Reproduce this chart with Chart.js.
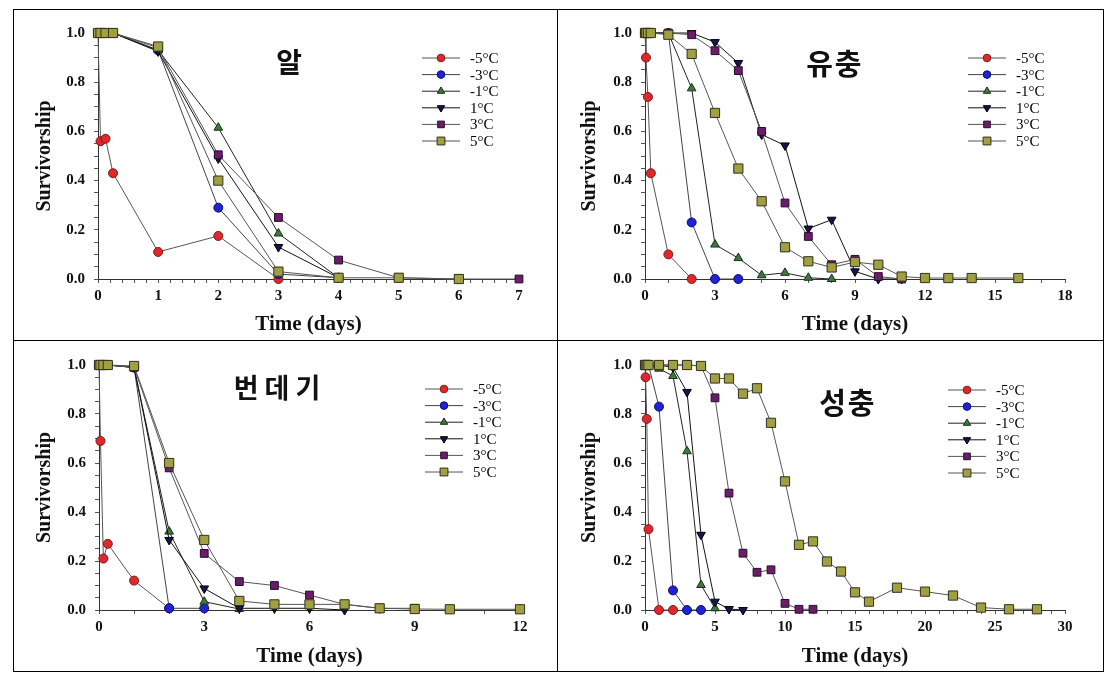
<!DOCTYPE html>
<html>
<head>
<meta charset="utf-8">
<script src="https://cdn.jsdelivr.net/npm/chart.js@4.4.1/dist/chart.umd.min.js"></script>
<style>
  html, body { margin: 0; padding: 0; background: #fff; }
  body { width: 1109px; height: 674px; position: relative; overflow: hidden; }
  .frame { position: absolute; left: 13px; top: 9px; width: 1089px; height: 661px; border: 1px solid #000; }
  .vline { position: absolute; left: 557px; top: 9px; width: 1px; height: 663px; background: #000; }
  .hline { position: absolute; left: 13px; top: 340px; width: 1091px; height: 1px; background: #000; }
  canvas { position: absolute; }
</style>
</head>
<body>
<div class="frame"></div>
<div class="vline"></div>
<div class="hline"></div>
<canvas id="egg" style="left:14px;top:10px;width:543px;height:329px" width="543" height="329"></canvas>
<canvas id="larva" style="left:559px;top:10px;width:544px;height:329px" width="544" height="329"></canvas>
<canvas id="pupa" style="left:14px;top:341px;width:543px;height:329px" width="543" height="329"></canvas>
<canvas id="adult" style="left:559px;top:341px;width:544px;height:329px" width="544" height="329"></canvas>
<script>
/**
 * Survivorship of four life stages at low temperatures
 */

// Series labels (temperature)
const tempLabels = ['-5°C', '-3°C', '-1°C', '1°C', '3°C', '5°C'];

// 알 (egg) - time points and survivorship per temperature
const eggDays = [0, 0.042, 0.125, 0.25, 1, 2, 3, 4, 5, 6, 7];
const eggM5 = [1, 0.56, 0.57, 0.43, 0.11, 0.175, 0.0];
const eggM3 = [1, 1, 1, 1, 0.93, 0.29, 0.02, 0.005];
const eggM1 = [1, 1, 1, 1, 0.93, 0.615, 0.185, 0.005];
const eggP1 = [1, 1, 1, 1, 0.925, 0.49, 0.13, 0.005];
const eggP3 = [1, 1, 1, 1, 0.94, 0.505, 0.25, 0.077, 0.005, 0.0, 0.0];
const eggP5 = [1, 1, 1, 1, 0.945, 0.40, 0.03, 0.005, 0.005, 0.0];

// 유충 (larva)
const larvaDays = [0, 0.042, 0.125, 0.25, 1, 2, 3, 4, 5, 6, 7, 8, 9, 10, 11, 12, 13, 14, 16];
const larvaM5 = [1, 0.90, 0.74, 0.43, 0.10, 0.0];
const larvaM3 = [1, 1, 1, 1, 1, 0.23, 0.0, 0.0];
const larvaM1 = [1, 1, 1, 1, 1, 0.775, 0.14, 0.085, 0.015, 0.025, 0.005, 0.0];
const larvaP1 = [1, 1, 1, 1, 1, 1.0, 0.963, 0.878, 0.587, 0.543, 0.205, 0.241, 0.031, 0.0, 0.0];
const larvaP3 = [1, 1, 1, 1, 1, 0.993, 0.928, 0.847, 0.60, 0.309, 0.173, 0.058, 0.08, 0.01, 0.0];
const larvaP5 = [1, 1, 1, 1, 0.993, 0.915, 0.675, 0.449, 0.316, 0.129, 0.072, 0.047, 0.069, 0.058, 0.01, 0.004, 0.004, 0.004, 0.004];

// 번데기 (pupa)
const pupaDays = [0, 0.042, 0.125, 0.25, 1, 2, 3, 4, 5, 6, 7, 8, 9, 10, 12];
const pupaM5 = [1, 0.69, 0.21, 0.27, 0.12, 0.007];
const pupaM3 = [1, 1, 1, 1, 0.99, 0.007, 0.007];
const pupaM1 = [1, 1, 1, 1, 0.99, 0.32, 0.034, 0.004];
const pupaP1 = [1, 1, 1, 1, 0.99, 0.286, 0.088, 0.007, 0.007, 0.007, 0.0];
const pupaP3 = [1, 1, 1, 1, 0.99, 0.58, 0.231, 0.116, 0.10, 0.061, 0.023, 0.007, 0.007];
const pupaP5 = [1, 1, 1, 1, 0.996, 0.60, 0.286, 0.037, 0.023, 0.023, 0.023, 0.007, 0.004, 0.003, 0.003];

// 성충 (adult)
const adultDays = [0, 0.042, 0.125, 0.25, 1, 2, 3, 4, 5, 6, 7, 8, 9, 10, 11, 12, 13, 14, 15, 16, 18, 20, 22, 24, 26, 28];
const adultM5 = [1, 0.95, 0.78, 0.33, 0.0, 0.0];
const adultM3 = [1, 1, 1, 1, 0.83, 0.08, 0.0, 0.0];
const adultM1 = [1, 1, 1, 1, 0.985, 0.955, 0.648, 0.102, 0.007];
const adultP1 = [1, 1, 1, 1, 1, 0.99, 0.89, 0.307, 0.034, 0.004, 0.0];
const adultP3 = [1, 1, 1, 1, 1, 1, 1, 0.996, 0.866, 0.477, 0.232, 0.154, 0.164, 0.027, 0.003, 0.003];
const adultP5 = [1, 1, 1, 1, 1, 1, 1, 0.996, 0.945, 0.945, 0.883, 0.905, 0.764, 0.525, 0.266, 0.28, 0.198, 0.157, 0.072, 0.034, 0.091, 0.075, 0.059, 0.01, 0.003, 0.003];

// Marker style per temperature
const seriesStyles = [
    { pointStyle: 'circle', fill: '#e0282c', border: '#7a1a1a', radius: 4.5, rotation: 0, line: '#555555' },
    { pointStyle: 'circle', fill: '#1e22d8', border: '#101060', radius: 4.5, rotation: 0, line: '#444444' },
    { pointStyle: 'triangle', fill: '#3c7a3c', border: '#1a301a', radius: 5, rotation: 0, line: '#222222' },
    { pointStyle: 'triangle', fill: '#16164e', border: '#000000', radius: 5, rotation: 180, line: '#111111' },
    { pointStyle: 'rect', fill: '#6a1e6a', border: '#2a0a2a', radius: 5.5, rotation: 0, line: '#555555' },
    { pointStyle: 'rect', fill: '#a0a040', border: '#303020', radius: 6.5, rotation: 0, line: '#555555' }
];

const serifFont = '"Liberation Serif", "Times New Roman", serif';

/**
 * Legend drawn inside the plot area
 */
const insideLegend = {
    id: 'insideLegend',
    afterDraw(chart, args, opts) {
        const { ctx, chartArea } = chart;
        ctx.save();
        chart.data.datasets.forEach((ds, i) => {
            const x0 = chartArea.left + opts.x;
            const y = chartArea.top + opts.y + i * 16.6;
            ctx.strokeStyle = ds.borderColor;
            ctx.lineWidth = 1;
            ctx.beginPath();
            ctx.moveTo(x0, y);
            ctx.lineTo(x0 + 38, y);
            ctx.stroke();
            ctx.fillStyle = ds.pointBackgroundColor;
            ctx.strokeStyle = ds.pointBorderColor;
            ctx.lineWidth = 1;
            Chart.helpers.drawPoint(ctx, {
                pointStyle: ds.pointStyle,
                rotation: ds.pointRotation,
                radius: ds.pointRadius * 0.85,
                borderWidth: 1
            }, x0 + 19, y);
            ctx.fillStyle = '#000';
            ctx.font = '15px ' + serifFont;
            ctx.textAlign = 'left';
            ctx.textBaseline = 'middle';
            ctx.fillText(ds.label, x0 + 48, y + 1);
        });
        ctx.restore();
    }
};

/**
 * Stage name (Korean) inside the plot area
 */
const stageTitle = {
    id: 'stageTitle',
    afterDraw(chart, args, opts) {
        const { ctx, chartArea } = chart;
        ctx.save();
        ctx.fillStyle = '#111';
        ctx.font = 'bold ' + opts.size + 'px "Noto Sans CJK KR", sans-serif';
        ctx.textAlign = 'center';
        ctx.textBaseline = 'middle';
        if ('letterSpacing' in ctx) ctx.letterSpacing = opts.spacing + 'px';
        ctx.fillText(opts.text, chartArea.left + opts.fx * chartArea.width, chartArea.top + opts.y);
        ctx.restore();
    }
};

// Panel setup
const panels = [
    { id: 'egg', name: '알', days: eggDays, series: [eggM5, eggM3, eggM1, eggP1, eggP3, eggP5],
      xMax: 7, xStep: 0.2, xMajor: 1, pad: { top: 23, right: 38 }, yWidth: 84, titleOff: 2,
      legend: { x: 324, y: 25 }, title: { fx: 0.454, y: 29.5, size: 28, spacing: 0 } },
    { id: 'larva', name: '유충', days: larvaDays, series: [larvaM5, larvaM3, larvaM1, larvaP1, larvaP3, larvaP5],
      xMax: 18, xStep: 1, xMajor: 3, pad: { top: 23, right: 38 }, yWidth: 86, titleOff: 2,
      legend: { x: 323, y: 25 }, title: { fx: 0.452, y: 31, size: 29, spacing: 2 } },
    { id: 'pupa', name: '번데기', days: pupaDays, series: [pupaM5, pupaM3, pupaM1, pupaP1, pupaP3, pupaP5],
      xMax: 12, xStep: 1, xMajor: 3, pad: { top: 24, right: 37 }, yWidth: 85, titleOff: 1,
      legend: { x: 326, y: 24 }, title: { fx: 0.43, y: 22.5, size: 27, spacing: 6 } },
    { id: 'adult', name: '성충', days: adultDays, series: [adultM5, adultM3, adultM1, adultP1, adultP3, adultP5],
      xMax: 30, xStep: 1, xMajor: 5, pad: { top: 24, right: 38 }, yWidth: 86, titleOff: 1,
      legend: { x: 303, y: 25 }, title: { fx: 0.483, y: 38, size: 29, spacing: 2 } }
];

function isMultiple(v, step) {
    const r = v / step;
    return Math.abs(r - Math.round(r)) < 1e-6;
}

function buildDatasets(panel) {
    return panel.series.map((vals, i) => {
        const st = seriesStyles[i];
        return {
            label: tempLabels[i],
            data: vals.map((v, k) => ({ x: panel.days[k], y: v })),
            // warmer series drawn on top, as in the original figure
            order: panel.series.length - 1 - i,
            borderColor: st.line,
            borderWidth: 1,
            pointStyle: st.pointStyle,
            pointRotation: st.rotation,
            pointRadius: st.radius,
            pointBackgroundColor: st.fill,
            pointBorderColor: st.border,
            pointBorderWidth: 1,
            tension: 0,
            fill: false,
            clip: false
        };
    });
}

function createPanel(panel) {
    const canvas = document.getElementById(panel.id);
    return new Chart(canvas, {
        type: 'line',
        data: { datasets: buildDatasets(panel) },
        plugins: [insideLegend, stageTitle],
        options: {
            responsive: false,
            animation: false,
            events: [],
            layout: { padding: { left: 0, top: panel.pad.top, right: panel.pad.right, bottom: 0 } },
            plugins: {
                legend: { display: false },
                tooltip: { enabled: false },
                insideLegend: panel.legend,
                stageTitle: { text: panel.name, fx: panel.title.fx, y: panel.title.y, size: panel.title.size, spacing: panel.title.spacing }
            },
            scales: {
                x: {
                    type: 'linear',
                    min: 0,
                    max: panel.xMax,
                    afterFit: (scale) => { scale.height = 60; },
                    grid: { display: true, drawOnChartArea: false, drawTicks: true, tickLength: 4, tickColor: '#555' },
                    border: { display: true, color: '#333', width: 1 },
                    ticks: {
                        stepSize: panel.xStep,
                        autoSkip: false,
                        maxRotation: 0,
                        padding: 4,
                        color: '#111',
                        font: { family: serifFont, size: 15, weight: 'bold' },
                        callback: (v) => isMultiple(v, panel.xMajor) ? String(Math.round(v)) : ''
                    },
                    title: {
                        display: true,
                        text: 'Time (days)',
                        color: '#111',
                        font: { family: serifFont, size: 21, weight: 'bold' },
                        padding: { top: 0, bottom: panel.titleOff }
                    }
                },
                y: {
                    type: 'linear',
                    min: 0,
                    max: 1,
                    afterFit: (scale) => { scale.width = panel.yWidth; },
                    grid: { display: true, drawOnChartArea: false, drawTicks: true, tickLength: 4, tickColor: '#555' },
                    border: { display: true, color: '#333', width: 1 },
                    ticks: {
                        stepSize: 0.05,
                        autoSkip: false,
                        padding: 9,
                        color: '#111',
                        font: { family: serifFont, size: 15, weight: 'bold' },
                        callback: (v) => isMultiple(v, 0.2) ? v.toFixed(1) : ''
                    },
                    title: {
                        display: true,
                        text: 'Survivorship',
                        color: '#111',
                        font: { family: serifFont, size: 20, weight: 'bold' },
                        padding: { top: 19, bottom: 0 }
                    }
                }
            }
        }
    });
}

panels.forEach(createPanel);
</script>
</body>
</html>
